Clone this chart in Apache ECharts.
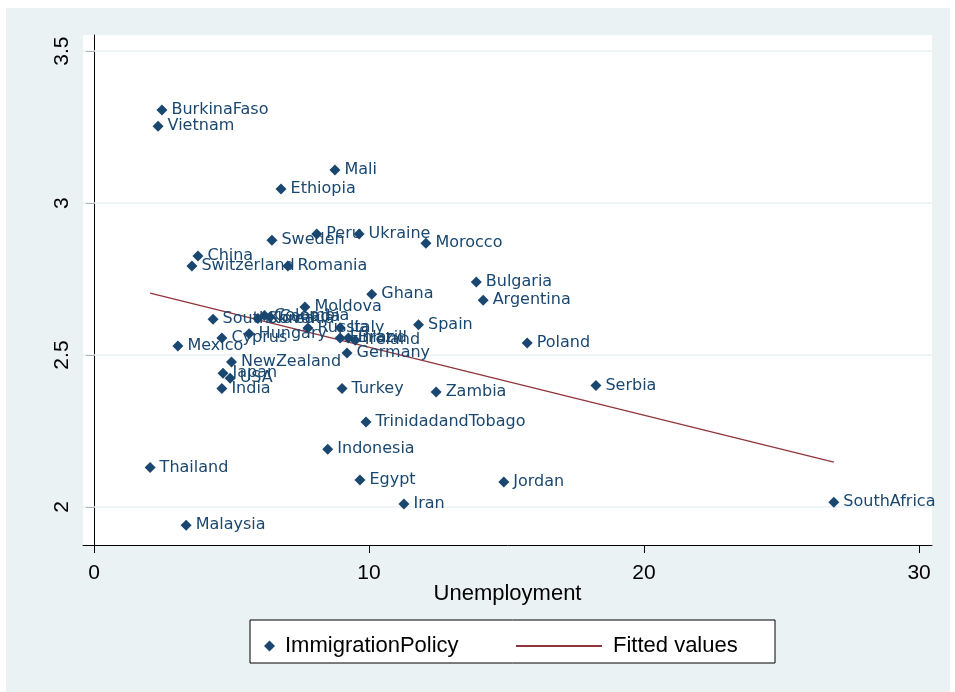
<!DOCTYPE html>
<html><head><meta charset="utf-8">
<script src="https://cdn.jsdelivr.net/npm/echarts@6/dist/echarts.min.js"></script>
<style>html,body{margin:0;padding:0;background:#fff}#c{width:955px;height:692px}</style>
</head><body><div id="c"></div>
<script>
const countries = ["BurkinaFaso","Vietnam","Mali","Ethiopia","Sweden","Peru","Ukraine","Morocco","China","Switzerland","Romania","Bulgaria","Argentina","Ghana","Moldova","Spain","Poland","Serbia","Zambia","Turkey","TrinidadandTobago","Indonesia","Egypt","Jordan","Iran","SouthAfrica","Thailand","Malaysia","India","NewZealand","Japan","USA","Mexico","SouthKorea","Cyprus","Hungary","Slovakia","Colombia","Canada","Russia","Italy","Finland","Brazil","Ireland","Germany"];
const unemployment = [2.47,2.33,8.76,6.8,6.47,8.1,9.64,12.07,3.78,3.56,7.05,13.9,14.15,10.1,7.67,11.8,15.75,18.25,12.44,9.02,9.89,8.5,9.67,14.9,11.27,26.9,2.04,3.35,4.65,5.0,4.69,4.95,3.05,4.33,4.65,5.64,5.96,6.2,6.4,7.78,8.95,8.95,9.25,9.5,9.2];
const immigrationPolicy = [3.306,3.253,3.109,3.046,2.878,2.898,2.898,2.868,2.826,2.793,2.793,2.74,2.68,2.70,2.658,2.60,2.54,2.40,2.378,2.39,2.28,2.19,2.089,2.082,2.01,2.016,2.13,1.94,2.39,2.477,2.44,2.424,2.53,2.618,2.556,2.57,2.62,2.63,2.625,2.589,2.59,2.556,2.556,2.549,2.507];
const fittedX = [2.04, 26.9];
const fittedY = [2.704, 2.148];
const xTicks = [0,10,20,30];
const yTicks = [2,2.5,3,3.5];

const navy = '#1a476f', maroon = '#90353b', bg = '#eaf2f3';
const pts = countries.map((n,i)=>({name:n, value:[unemployment[i], immigrationPolicy[i]]}));
const fit = fittedX.map((x,i)=>[x, fittedY[i]]);

const chart = echarts.init(document.getElementById('c'), null, {renderer:'canvas'});
chart.setOption({
  backgroundColor:'#fff',
  animation:false,
  graphic:[
    {type:'rect', z:-10, shape:{x:6,y:8,width:944,height:684}, style:{fill:bg}},
    {type:'rect', z:-9, shape:{x:83,y:35,width:849,height:510}, style:{fill:'#fff'}},
    {type:'rect', z:5, shape:{x:250,y:620,width:525,height:43}, style:{fill:'#fff', stroke:'#000', lineWidth:1}}
  ],
  grid:{left:83, right:23, top:35, bottom:147, containLabel:false},
  xAxis:{type:'value', min:-0.4, max:30.47,
    axisLine:{onZero:false, lineStyle:{color:'#000', width:1}},
    axisTick:{customValues:xTicks, length:8, lineStyle:{color:'#000'}},
    axisLabel:{customValues:xTicks, margin:18, fontSize:21, color:'#000', fontFamily:'Liberation Sans'},
    splitLine:{show:false},
    name:'Unemployment', nameLocation:'middle', nameGap:38, nameMoveOverlap:false,
    nameTextStyle:{fontSize:22, color:'#000', fontFamily:'Liberation Sans'}
  },
  yAxis:{type:'value', min:1.875, max:3.553,
    axisLine:{show:true, lineStyle:{color:'#000', width:1}},
    axisTick:{show:true, customValues:yTicks, length:8, lineStyle:{color:'#000'}},
    axisLabel:{customValues:yTicks, rotate:90, margin:10, fontSize:21, color:'#000', fontFamily:'Liberation Sans'},
    splitLine:{show:false}
  },
  legend:[
    {data:[{name:'ImmigrationPolicy', icon:'diamond', itemStyle:{opacity:1}}], left:259, top:630, itemWidth:11, itemHeight:11, itemGap:8,
     textStyle:{fontSize:22, color:'#000', fontFamily:'Liberation Sans', padding:[0,0,0,5]}, z:10},
    {data:[{name:'Fitted values', icon:'rect'}], left:511, top:630, itemWidth:86, itemHeight:2,
     textStyle:{fontSize:22, color:'#000', fontFamily:'Liberation Sans', padding:[0,0,0,6]}, z:10}
  ],
  series:[
    {name:'Fitted values', type:'line', data:fit, symbol:'none', showSymbol:false, lineStyle:{color:maroon, width:1.3}, itemStyle:{color:maroon}, z:3,
     markLine:{silent:true, symbol:'none', label:{show:false}, lineStyle:{color:bg, width:1.5, type:'solid'},
       data:yTicks.map(v=>({yAxis:v})), z:1}},
    {name:'ImmigrationPolicy', type:'scatter', data:pts, symbol:'diamond', symbolSize:11,
     itemStyle:{color:navy, opacity:1}, z:4,
     label:{show:true, position:'right', distance:4, formatter:'{b}', color:navy, fontSize:16, fontFamily:'DejaVu Sans'}
    }
  ]
});
</script></body></html>
